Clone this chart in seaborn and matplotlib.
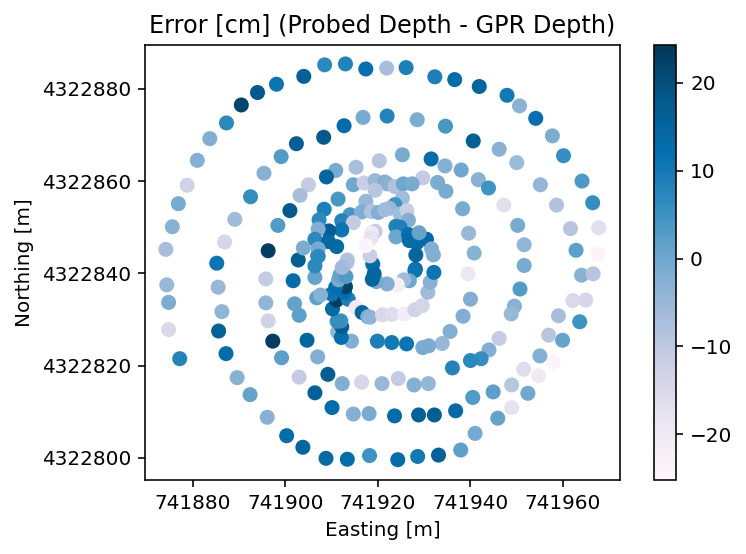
import matplotlib
matplotlib.use("Agg")
import matplotlib.pyplot as plt
import seaborn as sns
import pandas as pd
from matplotlib.cm import ScalarMappable
from matplotlib.colors import Normalize

# values, grouped by rough area
easting = [
    741874.2, 741875.6, 741876.9, 741878.8, 741881.0, 741883.7, 741887.3, 741890.5, 741894.0, 741898.1,
    741904.0, 741908.5, 741913.0, 741917.4, 741921.9, 741926.1, 741932.3, 741936.6, 741941.9, 741947.9,
    741950.6, 741954.1, 741957.7, 741960.1, 741964.1, 741966.4, 741967.7, 741967.5,
    741874.4, 741874.8, 741874.8, 741877.2, 741885.2, 741885.5, 741886.3, 741885.6, 741887.2, 741889.6,
    741892.4, 741896.1, 741900.3, 741903.8, 741908.8, 741913.4, 741918.2, 741924.3, 741928.6, 741933.1,
    741937.9, 741941.0, 741945.9, 741948.9, 741952.4, 741954.7, 741957.9, 741959.9, 741963.6, 741964.0,
    741966.5, 741962.1, 741964.9,
    741886.9, 741889.1, 741892.5, 741895.4, 741899.1, 741902.4, 741908.3, 741912.7, 741916.8, 741922.0,
    741928.5, 741934.6, 741940.6, 741946.2, 741950.0, 741955.1, 741958.6, 741961.6, 741962.8,
    741947.2, 741938.3, 741940.8, 741939.6, 741938.0, 741941.7, 741943.9, 741950.2, 741951.6,
    741939.5, 741940.0, 741938.4, 741935.6, 741933.9, 741931.0, 741929.7, 741926.2, 741923.0, 741919.9,
    741951.6, 741950.7, 741949.5, 741948.8, 741946.2, 741944.0, 741942.3, 741940.0, 741936.1, 741940.5,
    741944.9, 741948.9, 741951.5, 741955.0, 741956.9, 741959.0, 741924.4, 741927.8, 741930.9, 741920.9,
    741923.6, 741928.8, 741932.2, 741936.8,
    741895.8, 741895.8, 741896.3, 741897.3, 741899.2, 741903.0, 741907.0, 741904.7, 741903.0, 741902.0,
    741901.7, 741906.4, 741906.4, 741902.8, 741909.2, 741906.4, 741912.3, 741910.1, 741914.7, 741918.1,
    741916.5, 741914.3, 741911.3, 741912.1, 741912.2, 741912.0, 741911.2, 741910.2, 741911.1, 741913.6,
    741910.0, 741912.8, 741913.0, 741910.9, 741906.8, 741907.6, 741911.5, 741911.8, 741913.1,
    741913.3, 741915.3, 741916.6, 741917.8, 741918.3,
    741921.0, 741923.1, 741925.8, 741928.0, 741929.6, 741930.8, 741931.3, 741932.1, 741928.1, 741928.0,
    741926.8, 741925.6, 741924.2, 741922.0, 741919.7,
    741918.9, 741919.2, 741918.8, 741918.3, 741907.0, 741896.3, 741898.4,
    741925.3, 741931.5, 741920.3, 741934.5, 741915.3, 741910.9, 741929.7, 741908.9, 741905.0, 741932.9,
    741934.7, 741903.2, 741914.7, 741917.0, 741919.4, 741921.5, 741922.0, 741923.7, 741925.5, 741927.4,
    741919.4, 741911.4, 741917.4, 741925.3, 741908.4, 741901.0, 741923.7, 741922.5, 741914.0, 741916.5,
    741918.6, 741920.1, 741921.5, 741924.8, 741926.3, 741926.6, 741907.3, 741912.2, 741914.7, 741923.9,
    741924.8, 741912.2, 741909.4, 741907.1, 741919.4, 741918.6, 741918.5, 741917.4, 741923.9, 741926.6,
    741930.5, 741928.4, 741926.8, 741906.4, 741909.3, 741911.1, 741907.1, 741903.9, 741907.1,
    741913.4, 741928.2, 741931.6, 741932.0, 741928.9, 741912.3,
]
northing = [
    4322845.2, 4322850.1, 4322855.1, 4322859.1, 4322864.5, 4322869.2, 4322872.6, 4322876.5, 4322879.2, 4322881.0,
    4322882.7, 4322885.2, 4322885.4, 4322884.3, 4322884.5, 4322884.6, 4322882.6, 4322882.0, 4322880.5, 4322878.6,
    4322876.3, 4322873.6, 4322869.8, 4322865.5, 4322860.0, 4322855.3, 4322849.9, 4322844.2,
    4322837.5, 4322833.7, 4322827.8, 4322821.5, 4322842.2, 4322837.0, 4322831.7, 4322827.5, 4322822.6, 4322817.4,
    4322813.7, 4322808.8, 4322804.8, 4322802.3, 4322799.9, 4322799.7, 4322800.5, 4322799.6, 4322800.3, 4322800.6,
    4322801.7, 4322805.3, 4322808.6, 4322810.9, 4322814.0, 4322817.8, 4322820.7, 4322825.5, 4322829.5, 4322839.6,
    4322839.9, 4322834.1, 4322834.2,
    4322846.8, 4322851.7, 4322856.6, 4322861.7, 4322865.3, 4322868.1, 4322869.5, 4322872.0, 4322873.8, 4322874.1,
    4322873.3, 4322871.9, 4322868.7, 4322866.9, 4322864.0, 4322859.2, 4322854.8, 4322849.7, 4322845.0,
    4322854.8, 4322854.0, 4322844.4, 4322848.7, 4322862.4, 4322860.3, 4322858.5, 4322850.4, 4322846.2,
    4322839.9, 4322834.4, 4322830.7, 4322827.4, 4322824.8, 4322824.3, 4322823.9, 4322824.7, 4322825.0, 4322825.3,
    4322841.7, 4322836.6, 4322832.9, 4322831.2, 4322825.9, 4322823.4, 4322821.5, 4322821.1, 4322819.5, 4322813.1,
    4322814.3, 4322815.8, 4322819.2, 4322822.1, 4322826.6, 4322830.8, 4322817.2, 4322815.8, 4322816.1, 4322816.1,
    4322809.1, 4322809.3, 4322809.3, 4322810.2,
    4322838.8, 4322833.6, 4322829.7, 4322825.3, 4322821.7, 4322817.5, 4322821.9, 4322825.5, 4322830.9, 4322833.4,
    4322838.4, 4322839.1, 4322841.6, 4322842.9, 4322818.1, 4322814.1, 4322816.1, 4322810.9, 4322809.5, 4322809.6,
    4322816.4, 4322825.3, 4322827.3, 4322826.1, 4322828.4, 4322829.7, 4322829.6, 4322832.3, 4322834.2, 4322834.4,
    4322835.5, 4322835.8, 4322837.1, 4322837.0, 4322834.7, 4322835.3, 4322838.6, 4322839.6, 4322839.3,
    4322842.3, 4322832.6, 4322831.5, 4322830.6, 4322830.5,
    4322831.0, 4322831.1, 4322831.2, 4322832.1, 4322833.0, 4322835.9, 4322838.1, 4322840.2, 4322840.9, 4322840.6,
    4322838.4, 4322838.6, 4322837.5, 4322837.7, 4322838.2,
    4322842.0, 4322839.9, 4322838.7, 4322843.8, 4322843.8, 4322844.9, 4322850.4,
    4322865.7, 4322864.8, 4322864.4, 4322863.3, 4322863.0, 4322862.3, 4322860.7, 4322860.9, 4322859.2, 4322859.7,
    4322857.8, 4322856.9, 4322859.2, 4322859.6, 4322860.1, 4322859.8, 4322859.4, 4322858.8, 4322859.4, 4322859.4,
    4322858.0, 4322856.1, 4322855.6, 4322856.3, 4322853.9, 4322853.6, 4322854.9, 4322854.1, 4322852.7, 4322853.3,
    4322853.4, 4322853.2, 4322853.8, 4322852.9, 4322853.6, 4322851.5, 4322851.6, 4322851.4, 4322851.0, 4322850.2,
    4322850.0, 4322849.4, 4322849.2, 4322849.6, 4322849.1, 4322848.7, 4322847.6, 4322846.0, 4322847.9, 4322848.4,
    4322847.4, 4322846.6, 4322847.1, 4322847.4, 4322846.9, 4322845.8, 4322845.3, 4322845.5, 4322843.7,
    4322842.9, 4322844.0, 4322845.3, 4322844.0, 4322848.8, 4322841.3,
]
error = [
    -7, -3, -1, -13, -2.5, -2, 7, 22, 18, 11,
    16, 7, 8, 12, -7, 9, 9, 13, 15, 10,
    -3.5, 12, -1.5, 6, 3.5, 6, -17, -24,
    -5, -1.5, -15, 8, 11, -5, -4, 16, 13, -3,
    1, -3, 13, 15, 14, 13, 5, 13, 10, 16,
    2, -0.5, 1, -18, 0, -20, -24, 1, 5, -3,
    -9, -15, -14,
    -14, -6, 6, -3, 3, 17, 18, 13, -1, 8,
    -1.5, 4, 16, -3, -5.5, -4.5, -8, -9, 2,
    -17, -1, -3, -5, 0, -3, 5, -1, -4,
    -19, -2, -2, -2, -5, -1.5, -1, 11, 10, 9,
    -1, 3, -3, -5, -11, -2, 6, 7, 8, 3,
    2, -9, -16, -2.5, -9, -7, -11, -2.5, -4.5, -5,
    13, 16, 17, 14,
    -11, -4, -13, 23, 2, -11, -2, 15, 2, 1,
    13, 1, 7, 17, 17, 16, -2, 13, -2.5, -1,
    -14, -2, -4, 12, 17, 5, 6, 14, 23, 9,
    11, 12, 22, 12, 2, -3, -1, 1, 3,
    -9, -20, 15, -1, -4,
    -15, -16, -21, -13, -14, -6, -3, 11, 15, 11,
    0, -6, -22, -2, -1,
    13, 15, 15, -12, 7, 23, 3,
    -1, 13, -9, -2.5, -7, -1, -11, 15, -11, -1.5,
    -1, -7, 0, -12, -5, -2, -3, -8, 0, -1,
    -9, 4, -5, -6, 9, 18, 5, -5, 4, -2,
    -8, -2, -6, -6, -12, -2, 7, 8, -11, 8,
    9, 11, 17, -2, -11, -20, -18, -24, 0, 12,
    14, 13, 13, 7, 14, 14, -1, -1.5, 7,
    -8, 15, -2, -2, 1, -6,
]

east_ticks = [741880, 741900, 741920, 741940, 741960]
north_ticks = [4322800, 4322820, 4322840, 4322860, 4322880]
err_ticks = [-20, -10, 0, 10, 20]

df = pd.DataFrame({"easting": easting, "northing": northing, "error": error})
norm = Normalize(vmin=-25.2, vmax=24.3)

W, H = 746, 554
fig = plt.figure(figsize=(W / 144, H / 144), dpi=144)
ax = fig.add_axes([145 / W, 1 - 480 / H, 475 / W, 435 / H])
cax = fig.add_axes([654 / W, 1 - 480 / H, 22 / W, 435 / H])

sns.scatterplot(data=df, x="easting", y="northing", hue="error", palette="PuBu", hue_norm=norm,
                s=36, edgecolor="face", linewidth=1.5, legend=False, ax=ax)

ax.set_xlim(741869.7, 741972.3)
ax.set_ylim(4322795.2, 4322889.5)
ax.set_xticks(east_ticks)
ax.set_yticks(north_ticks)
ax.ticklabel_format(useOffset=False, style="plain")
ax.set_xlabel("Easting [m]")
ax.set_ylabel("Northing [m]")
ax.set_title("Error [cm] (Probed Depth - GPR Depth)")

sm = ScalarMappable(norm=norm, cmap="PuBu")
fig.colorbar(sm, cax=cax, ticks=err_ticks)

plt.savefig("out.png", dpi=144)
